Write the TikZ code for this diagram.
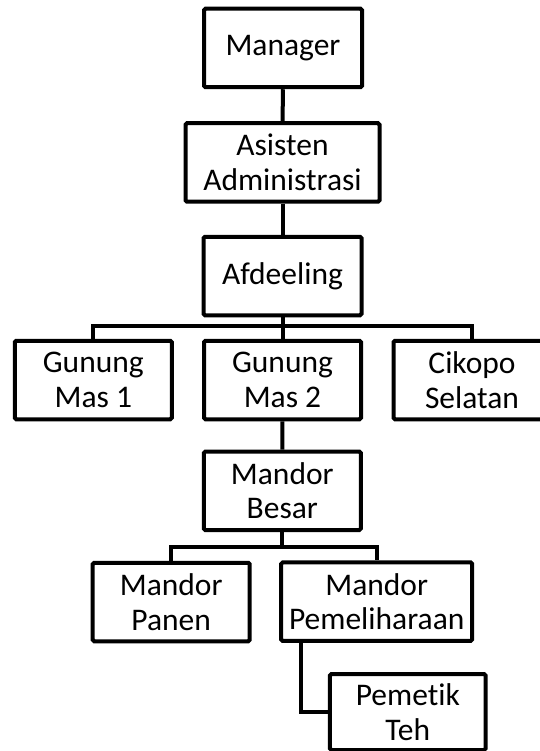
\documentclass[tikz,border=0pt]{standalone}
\usepackage{fontspec}
\setmainfont{Carlito}[Ligatures=NoCommon]
\usepackage{tikz}
\usetikzlibrary{positioning}

\tikzset{
  orgbox/.style={draw=black, line width=4pt, rounded corners=1.5pt, inner xsep=2pt,
    minimum width=157pt, minimum height=78.5pt, align=center,
    font=\fontsize{31.5}{34.5}\selectfont},
  widebox/.style={orgbox, minimum width=191pt},
  link/.style={draw=black, line width=4pt}
}

\begin{document}
\begin{tikzpicture}[x=1pt, y=-1pt]
  \useasboundingbox (0,0) rectangle (539,751);

  \node[orgbox, minimum width=158pt] (mgr) at (283,48) {Manager};
  \node[widebox, minimum width=194pt] (asst) at (282.5,162.5) {Asisten\\Administrasi};
  \node[orgbox, minimum width=158pt] (afd) at (282.5,276) {Afdeeling};

  \node[orgbox] (gm1) at (93.3,380) {Gunung\\Mas 1};
  \node[orgbox] (gm2) at (282.5,380) {Gunung\\Mas 2};
  \node[orgbox] (cik) at (472,380) {Cikopo\\Selatan};

  \node[orgbox] (besar) at (282.3,490.8) {Mandor\\Besar};
  \node[orgbox] (panen) at (171.2,602) {Mandor\\Panen};
  \node[widebox] (pem) at (376.7,601.7) {Mandor\\Pemeliharaan};
  \node[orgbox, minimum width=155.7pt, minimum height=76pt] (tea) at (407.8,712) {Pemetik\\Teh};

  \coordinate (busA) at (282.5,325.5);
  \coordinate (busB) at (282.3,546.5);

  \draw[link] (mgr) -- (asst);
  \draw[link] (asst) -- (afd);
  \draw[link] (afd) -- (busA) -- (gm2);
  \draw[link] (busA) -| (gm1.north);
  \draw[link] (busA) -| (cik.north);
  \draw[link] (gm2) -- (besar);
  \draw[link] (besar) -- (busB);
  \draw[link] (busB) -| (panen.north);
  \draw[link] (busB) -| (pem.north);
  \draw[link] ([xshift=21.5pt]pem.south west) |- (tea.west);
\end{tikzpicture}
\end{document}
